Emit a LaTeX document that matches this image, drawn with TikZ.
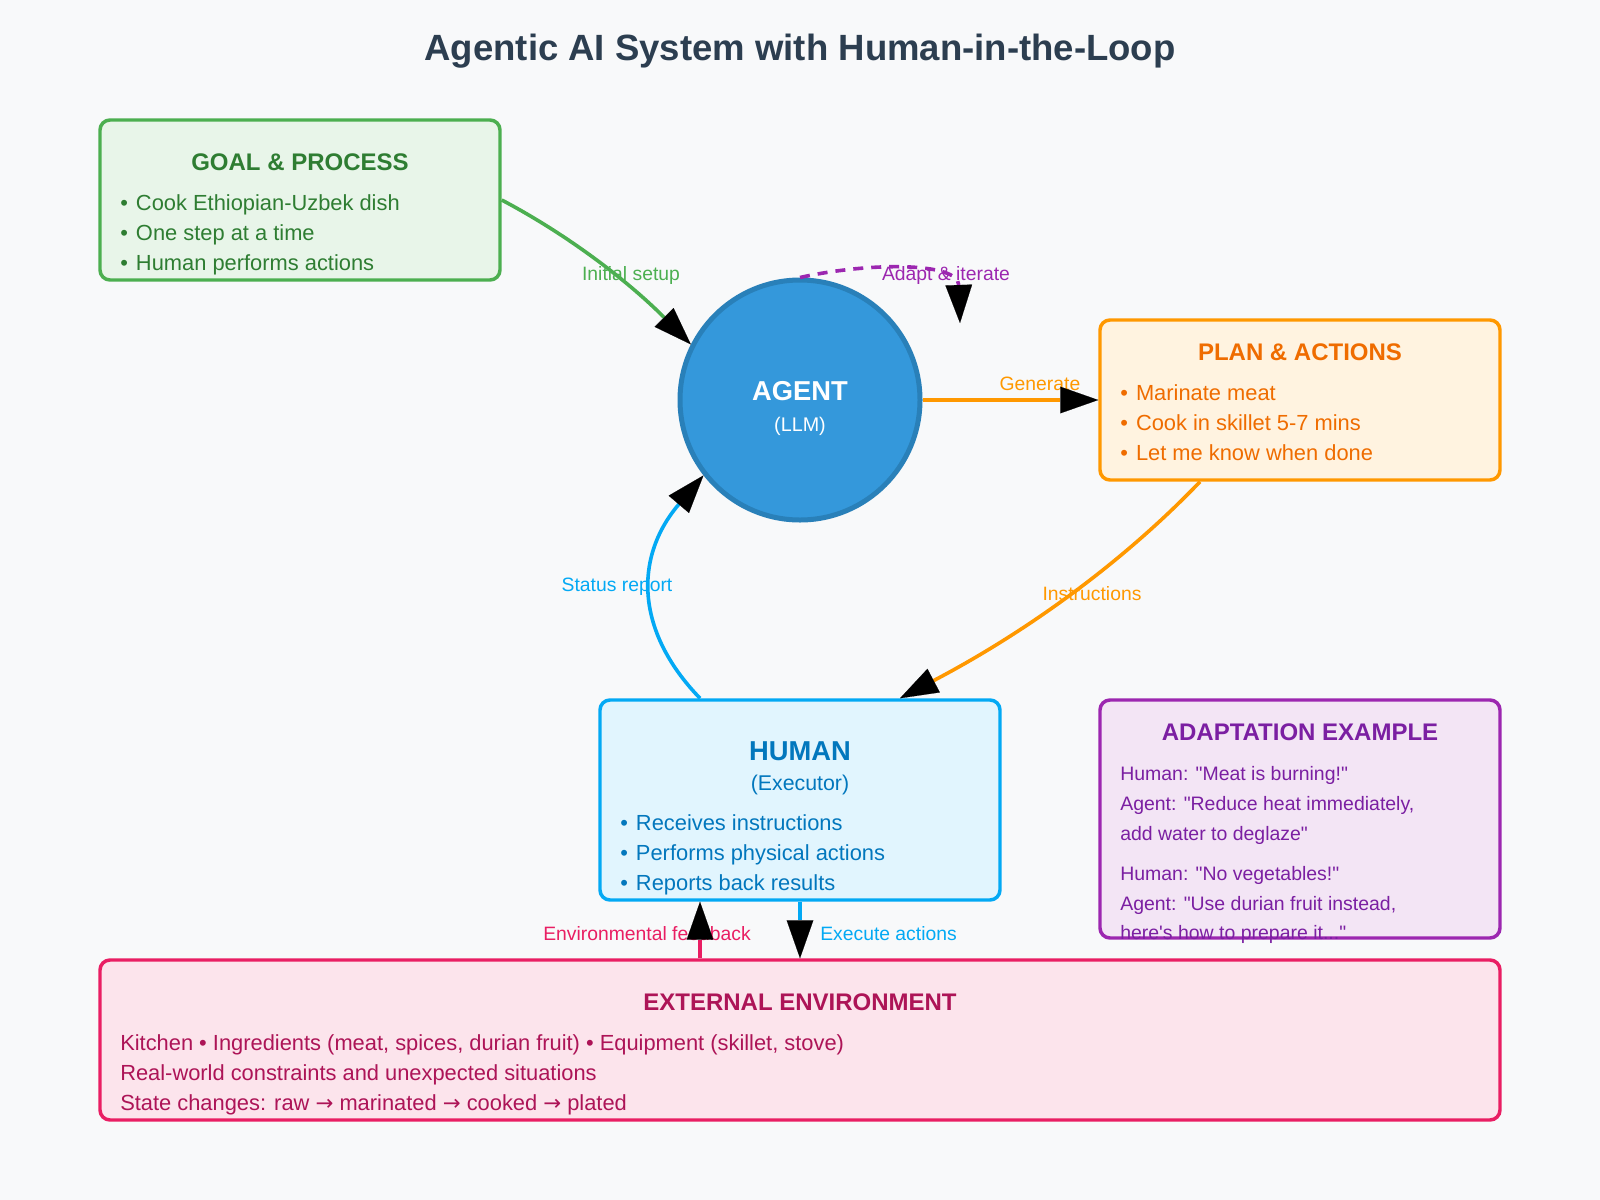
\documentclass[tikz,border=0pt]{standalone}
\usepackage{fontspec}
\setmainfont{Liberation Sans}[Ligatures=TeXOff]
\newfontfamily\arrfont{DejaVu Sans}
\usetikzlibrary{arrows.meta,calc}
\definecolor{bg}{HTML}{F8F9FA}
\definecolor{titlec}{HTML}{2C3E50}
\definecolor{goalc}{HTML}{4CAF50}
\definecolor{goalf}{HTML}{E8F5E9}
\definecolor{goalt}{HTML}{2E7D32}
\definecolor{planc}{HTML}{FF9800}
\definecolor{planf}{HTML}{FFF3E0}
\definecolor{plant}{HTML}{EF6C00}
\definecolor{humc}{HTML}{03A9F4}
\definecolor{humf}{HTML}{E1F5FE}
\definecolor{humt}{HTML}{0277BD}
\definecolor{adac}{HTML}{9C27B0}
\definecolor{adaf}{HTML}{F3E5F5}
\definecolor{adat}{HTML}{7B1FA2}
\definecolor{envc}{HTML}{E91E63}
\definecolor{envf}{HTML}{FCE4EC}
\definecolor{envt}{HTML}{AD1457}
\definecolor{agentf}{HTML}{3498DB}
\definecolor{agentc}{HTML}{2980B9}
\newcommand{\bul}{•\hspace{1.5pt} }
\newcommand{\rar}{{\arrfont\fontsize{16}{16}\selectfont →}}
\begin{document}
\begin{tikzpicture}[x=0.75pt,y=-0.75pt,
  box/.style={draw, rounded corners=7.5pt, line width=2.6pt, inner sep=0pt},
  ttl/.style={anchor=base, inner sep=0pt, font=\bfseries\fontsize{18}{18}\selectfont},
  tx/.style={anchor=base west, inner sep=0pt, font=\fontsize{16.4}{16.4}\selectfont},
  stx/.style={anchor=base west, inner sep=0pt, font=\fontsize{14.6}{14.6}\selectfont},
  lab/.style={anchor=base, inner sep=0pt, font=\fontsize{14.5}{14.5}\selectfont},
  conn/.style={line width=2.7pt, -{Triangle[length=28.5pt,width=20pt,color=black,line width=0.1pt]}}
]
\useasboundingbox[fill=bg] (0,0) rectangle (1600,1200);

% title
\node[anchor=base, inner sep=0pt, text=titlec, font=\bfseries\fontsize{27.4}{27.4}\selectfont] (title) at (800,60) {Agentic AI System with Human-in-the-Loop};

% boxes
\node[box, draw=goalc, fill=goalf, minimum width=300pt, minimum height=120pt] (goal) at (300,200) {};
\node[box, draw=planc, fill=planf, minimum width=300pt, minimum height=120pt] (plan) at (1300,400) {};
\node[box, draw=humc, fill=humf, minimum width=300pt, minimum height=150pt] (human) at (800,800) {};
\node[box, draw=adac, fill=adaf, minimum width=300pt, minimum height=178.5pt] (adapt) at (1300,819) {};
\node[box, draw=envc, fill=envf, minimum width=1050pt, minimum height=120pt] (env) at (800,1040) {};
\node[circle, draw=agentc, fill=agentf, line width=3.75pt, minimum size=180pt, inner sep=0pt] (agent) at (800,400) {};

% goal text
\node[ttl, text=goalt] (goalT) at (300,170) {GOAL \& PROCESS};
\node[tx, text=goalt] (goal1) at (120,210) {\bul Cook Ethiopian-Uzbek dish};
\node[tx, text=goalt] (goal2) at (120,240) {\bul One step at a time};
\node[tx, text=goalt] (goal3) at (120,270) {\bul Human performs actions};

% agent text
\node[anchor=base, inner sep=0pt, text=white, font=\bfseries\fontsize{20.5}{20.5}\selectfont] (agentT) at (800,400) {AGENT};
\node[anchor=base, inner sep=0pt, text=white, font=\fontsize{14.8}{14.8}\selectfont] (agentS) at (800,431) {(LLM)};

% plan text
\node[ttl, text=plant] (planT) at (1300,360) {PLAN \& ACTIONS};
\node[tx, text=plant] (plan1) at (1120,400) {\bul Marinate meat};
\node[tx, text=plant] (plan2) at (1120,430) {\bul Cook in skillet 5-7 mins};
\node[tx, text=plant] (plan3) at (1120,460) {\bul Let me know when done};

% human text
\node[anchor=base, inner sep=0pt, text=humt, font=\bfseries\fontsize{20.5}{20.5}\selectfont] (humT) at (800,760) {HUMAN};
\node[anchor=base, inner sep=0pt, text=humt, font=\fontsize{16}{16}\selectfont] (humS) at (800,790) {(Executor)};
\node[tx, text=humt] (hum1) at (620,830) {\bul Receives instructions};
\node[tx, text=humt] (hum2) at (620,860) {\bul Performs physical actions};
\node[tx, text=humt] (hum3) at (620,890) {\bul Reports back results};

% adaptation text
\node[ttl, text=adat] (adaT) at (1300,740) {ADAPTATION EXAMPLE};
\node[stx, text=adat] (ada1) at (1120,780) {Human: "Meat is burning!"};
\node[stx, text=adat] (ada2) at (1120,810) {Agent: "Reduce heat immediately,};
\node[stx, text=adat] (ada3) at (1120,840) {add water to deglaze"};
\node[stx, text=adat] (ada4) at (1120,880) {Human: "No vegetables!"};
\node[stx, text=adat] (ada5) at (1120,910) {Agent: "Use durian fruit instead,};
\node[stx, text=adat] (ada6) at (1120,939) {here's how to prepare it..."};

% environment text
\node[ttl, text=envt] (envT) at (800,1010) {EXTERNAL ENVIRONMENT};
\node[tx, text=envt] (env1) at (120,1050) {Kitchen • Ingredients (meat, spices, durian fruit) • Equipment (skillet, stove)};
\node[tx, text=envt] (env2) at (120,1080) {Real-world constraints and unexpected situations};
\node[tx, text=envt] (env3) at (120,1110) {State changes: raw \rar{} marinated \rar{} cooked \rar{} plated};

% connector labels
\node[lab, text=goalc] (lInit) at (631,280) {Initial setup};
\node[lab, text=adac] (lAdapt) at (946,280) {Adapt \& iterate};
\node[lab, text=planc] (lGen) at (1040,390) {Generate};
\node[lab, text=planc] (lInstr) at (1092,600) {Instructions};
\node[lab, text=humc] (lStat) at (617,591) {Status report};
\node[anchor=base east, inner sep=0pt, text=envc, font=\fontsize{14.5}{14.5}\selectfont] (lEnv) at (751,940) {Environmental feedback};
\node[anchor=base west, inner sep=0pt, text=humc, font=\fontsize{14.5}{14.5}\selectfont] (lExec) at (820,940) {Execute actions};

% connectors
\draw[conn, goalc] (goal.east) .. controls (570,236) and (630,283) .. (agent.153.6);
\draw[conn, adac, dash pattern=on 7.5pt off 6pt] (agent.north) .. controls (870,262) and (958,262) .. (960,323);
\draw[conn, planc] (agent.east) -- (plan.west);
\draw[conn, planc] ([xshift=-75pt]plan.south) .. controls (1125,560) and (1030,630) .. ([xshift=75pt]human.north);
\draw[conn, humc] ([xshift=-75pt]human.north) .. controls (634,630) and (634.7,556) .. (agent.218.5);
\draw[conn, humc] (human.south) -- (env.north);
\draw[conn, envc] ([xshift=-75pt]env.north) -- ([xshift=-75pt]human.south);
\end{tikzpicture}
\end{document}
